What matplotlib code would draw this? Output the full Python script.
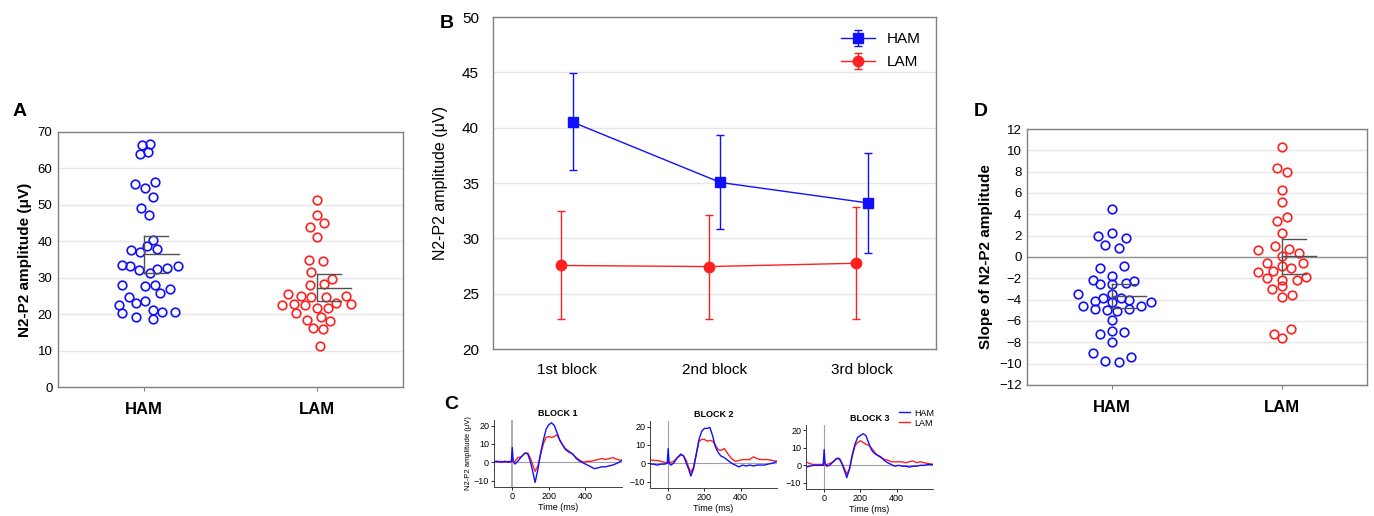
import numpy as np
import matplotlib
matplotlib.use("Agg")
import matplotlib.pyplot as plt

plt.rcParams['font.family'] = ['Liberation Sans', 'DejaVu Sans']

BLUE = '#1010ff'
RED = '#ff2020'
GRID = '#e6e6e6'
SPINE = '#808080'
MEANC = '#505050'

groups = ['HAM', 'LAM']

# panel A: individual N2-P2 amplitudes (x jitter offset, value)
a_ham_dx = [-0.015, 0.035, -0.027, 0.023, -0.056, 0.002, 0.064, 0.048, -0.021, 0.029,
            0.048, 0.015, 0.073, -0.077, -0.027, -0.131, -0.081, -0.031, 0.033, 0.073,
            0.133, 0.193, -0.131, 0.002, 0.062, 0.093, 0.149, -0.087, -0.147, -0.046,
            0.002, -0.128, 0.052, 0.104, 0.178, -0.046, 0.052]
a_ham = [66.5, 66.7, 64.0, 64.5, 55.6, 54.7, 56.4, 52.2, 49.0, 47.3,
         40.3, 38.6, 37.9, 37.5, 37.0, 33.6, 33.1, 32.0, 31.4, 32.5,
         32.8, 33.2, 27.9, 27.8, 28.1, 25.9, 27.0, 24.7, 22.4, 23.0,
         23.5, 20.2, 21.0, 20.6, 20.5, 19.1, 18.8]
a_lam_dx = [0.002, 0.002, 0.041, -0.039, 0.002, -0.043, 0.035, -0.031, -0.039, 0.041,
            0.087, -0.168, -0.089, -0.031, 0.052, 0.172, -0.199, -0.130, -0.070, 0.002,
            0.068, 0.112, 0.201, -0.120, -0.058, 0.027, 0.077, -0.019, 0.039, 0.019]
a_lam = [51.2, 47.1, 45.1, 43.9, 41.1, 34.9, 34.6, 31.6, 28.0, 28.2,
         29.7, 25.6, 25.0, 24.7, 24.8, 25.0, 22.5, 22.9, 22.4, 21.7,
         21.8, 23.0, 22.8, 20.3, 18.4, 19.2, 18.0, 16.2, 16.0, 11.3]
a_mean = [36.5, 27.3]
a_lo = [31.4, 23.5]
a_hi = [41.4, 31.0]

# panel B: mean amplitude per block with error bars
blocks = ['1st block', '2nd block', '3rd block']
b_ham = [40.5, 35.05, 33.2]
b_ham_lo = [36.15, 30.85, 28.65]
b_ham_hi = [44.9, 39.35, 37.7]
b_lam = [27.55, 27.45, 27.75]
b_lam_lo = [22.75, 22.75, 22.75]
b_lam_hi = [32.45, 32.15, 32.8]

# panel C: grand-average waveforms (time in ms, amplitude in uV)
c_time = [-100, -80, -60, -40, -20, -5, 0, 5, 15, 30, 50, 70, 85, 100, 112, 125, 140,
          155, 170, 185, 200, 215, 230, 245, 260, 275, 290, 310, 330, 350, 370, 390,
          410, 430, 450, 470, 490, 510, 530, 550, 575, 600]
c_ham = [
    [0.5, 0.5, 0, 0.5, 0, 0.5, 8, 0.5, -1, 0.5, 3, 5, 4.5, 0, -5, -11, -4,
     5, 12, 18, 20.5, 21.5, 20, 16, 12, 9.5, 7, 5.5, 4.5, 2, 0.5, -0.5,
     -1.5, -2.5, -3.5, -3, -2.5, -2.5, -2, -1.5, -0.5, 1],
    [-0.5, -0.5, -1, -0.5, -0.5, 0, 8, 0, -1, 0, 3, 5, 4, 0, -3, -7, -3,
     5, 13, 17.5, 19, 19, 19.5, 15, 9, 6, 4, 3, 1.5, 0, -1, -2,
     -1, -1.5, -1, -1.5, -1, -1, -1, -0.5, 0, 1],
    [-1, -0.5, 0, 0, 0, 0, 9, 1, -0.5, 0, 2, 4, 3.5, 0.5, -3, -7, -2,
     6, 12, 16, 17, 18, 17, 13, 9, 7, 6, 5, 3, 1.5, 0.5, -0.5,
     0, -0.5, -0.5, -1, -0.5, -0.5, 0, 0, 0.5, 0.5],
]
c_lam = [
    [0.5, 0, 0.5, 0, 0.5, 0, 3, 0, 0.5, 2.5, 3, 5, 5, 2, -1.5, -5, -2,
     4, 10, 13.5, 14, 13.5, 14, 15, 12, 9.5, 7.5, 6, 4.5, 2.5, 1, 0,
     0.5, 0.5, 1, 1.5, 2, 1.5, 2, 2.5, 1.5, 1],
    [2, 1.5, 1.5, 1, 0.5, 0, 3, 0, 0.5, 1, 3, 4.5, 4, 1.5, -2, -5, -2,
     5, 12, 13, 13, 12, 12.5, 12, 10, 7.5, 7, 8, 5, 2.5, 1, 1.5,
     2, 2, 2, 3.5, 2.5, 2, 2, 2, 1.5, 1],
    [2, 1, 0.5, 0.5, 0.5, 0.5, 4, 0, 0.5, 1, 2, 4, 4, 1, -2, -5, -2,
     5, 11, 13, 14, 13, 12, 11.5, 10, 8, 6, 4.5, 3.5, 3, 2, 2,
     2, 2, 1.5, 2, 2.5, 1.5, 2, 1.5, 1, 0.5],
]
c_titles = ['BLOCK 1', 'BLOCK 2', 'BLOCK 3']

# panel D: slope of N2-P2 amplitude
d_ham_dx = [0.0, -0.080, 0.0, 0.080, -0.041, 0.041, -0.071, 0.071, 0.0, -0.114,
            -0.071, 0.0, 0.080, 0.131, -0.202, 0.0, -0.051, 0.051, -0.100, 0.0,
            0.100, 0.229, -0.171, -0.100, -0.031, 0.029, 0.100, 0.169, 0.0, 0.0,
            0.071, -0.071, 0.0, -0.110, 0.110, -0.041, 0.041]
d_ham = [4.49, 1.96, 2.24, 1.80, 1.11, 0.80, -1.02, -0.80, -1.77, -2.14,
         -2.55, -2.49, -2.42, -2.21, -3.43, -3.43, -3.89, -3.86, -4.08, -4.21,
         -4.02, -4.21, -4.61, -4.90, -4.93, -5.02, -4.90, -4.61, -5.87, -6.96,
         -6.99, -7.24, -7.99, -9.00, -9.37, -9.75, -9.81]
d_lam_dx = [0.0, -0.029, 0.031, 0.0, 0.0, -0.029, 0.031, 0.0, -0.039, -0.139,
            0.041, 0.100, 0.0, -0.090, 0.0, 0.051, 0.120, -0.139, -0.053, -0.090,
            0.0, 0.090, 0.141, 0.0, -0.061, 0.061, 0.0, -0.049, 0.051, 0.0]
d_lam = [10.28, 8.31, 8.0, 6.31, 5.18, 3.40, 3.77, 2.24, 1.05, 0.61,
         0.74, 0.42, 0.05, -0.52, -0.89, -1.02, -0.58, -1.39, -1.33, -1.95,
         -2.17, -2.17, -1.89, -2.71, -3.02, -3.52, -3.74, -7.18, -6.71, -7.59]
d_mean = [-3.64, 0.08]
d_lo = [-4.80, -1.55]
d_hi = [-2.49, 1.71]


def style_box(ax):
    for s in ax.spines.values():
        s.set_color(SPINE)
        s.set_linewidth(1.0)
    ax.yaxis.grid(True, color=GRID, lw=1)
    ax.set_axisbelow(True)


def scatter_panel(ax, dxs, vals, means, los, his, ylim, yticks, ylabel):
    for i, (dx, v, c) in enumerate(zip(dxs, vals, [BLUE, RED])):
        ax.plot(np.array(dx) + i, v, 'o', ms=6.2, mfc='none', mec=c, mew=1.2,
                zorder=3, clip_on=False)
    # mean and confidence bracket
    for i in range(2):
        ax.plot([i, i], [los[i], his[i]], color=MEANC, lw=1, zorder=4)
        ax.plot([i, i + 0.2], [means[i], means[i]], color=MEANC, lw=1, zorder=4)
        ax.plot([i, i + 0.14], [los[i], los[i]], color=MEANC, lw=1, zorder=4)
        ax.plot([i, i + 0.14], [his[i], his[i]], color=MEANC, lw=1, zorder=4)
    ax.set_xlim(-0.5, 1.5)
    ax.set_ylim(*ylim)
    ax.set_yticks(yticks)
    ax.set_xticks([0, 1])
    ax.set_xticklabels(groups, fontsize=12, fontweight='bold')
    ax.tick_params(axis='y', length=0, labelsize=9.5, pad=4)
    ax.tick_params(axis='x', length=3, color=SPINE, pad=8)
    ax.set_ylabel(ylabel, fontsize=11, fontweight='bold')
    style_box(ax)


fig = plt.figure(figsize=(13.74, 5.16), dpi=100)

# ---- A
axA = fig.add_axes([0.0422, 0.25, 0.2511, 0.4942])
scatter_panel(axA, [a_ham_dx, a_lam_dx], [a_ham, a_lam], a_mean, a_lo, a_hi,
              (0, 70), range(0, 71, 10), 'N2-P2 amplitude (\u03bcV)')
fig.text(0.009, 0.775, 'A', fontsize=14, fontweight='bold')

# ---- B
axB = fig.add_axes([0.3588, 0.3236, 0.3224, 0.6434])
xb = np.arange(len(blocks))
axB.errorbar(xb + 0.04, b_ham,
             yerr=[np.subtract(b_ham, b_ham_lo), np.subtract(b_ham_hi, b_ham)],
             color=BLUE, marker='s', ms=7.5, lw=1, capsize=3, elinewidth=1, label='HAM')
axB.errorbar(xb - 0.04, b_lam,
             yerr=[np.subtract(b_lam, b_lam_lo), np.subtract(b_lam_hi, b_lam)],
             color=RED, marker='o', ms=7.5, lw=1, capsize=3, elinewidth=1, label='LAM')
axB.set_xlim(-0.5, 2.5)
axB.set_ylim(20, 50)
axB.set_yticks(range(20, 51, 5))
axB.set_xticks(xb)
axB.set_xticklabels(blocks, fontsize=11)
axB.tick_params(axis='y', length=0, labelsize=11, pad=10)
axB.tick_params(axis='x', length=0, pad=10)
axB.set_ylabel('N2-P2 amplitude (\u03bcV)', fontsize=11.5, labelpad=10)
style_box(axB)
axB.legend(loc='upper right', frameon=False, fontsize=11, handlelength=2.2,
           borderaxespad=0.6, labelspacing=0.6)
fig.text(0.320, 0.945, 'B', fontsize=14, fontweight='bold')

# ---- C
c_rects = [[0.3595, 0.0562, 0.0932, 0.1298],
           [0.4731, 0.0543, 0.0924, 0.1297],
           [0.5866, 0.0523, 0.0924, 0.1241]]
for k, rect in enumerate(c_rects):
    ax = fig.add_axes(rect)
    ax.axvline(0, color='#a0a0a0', lw=1.2 if k == 0 else 0.8, zorder=1)
    ax.axhline(0, color='#a0a0a0', lw=0.8, zorder=1)
    ax.plot(c_time, c_ham[k], color=BLUE, lw=1.0, label='HAM', zorder=3)
    ax.plot(c_time, c_lam[k], color=RED, lw=1.0, label='LAM', zorder=2)
    ax.set_xlim(-100, 600)
    ax.set_ylim(-13.5, 23)
    ax.set_yticks([-10, 0, 10, 20])
    ax.set_xticks([0, 200, 400])
    for s in ['top', 'right']:
        ax.spines[s].set_visible(False)
    for s in ['left', 'bottom']:
        ax.spines[s].set_color('#404040')
        ax.spines[s].set_linewidth(0.7)
    ax.tick_params(labelsize=6.5, length=2, width=0.6, pad=1.5)
    ax.set_xlabel('Time (ms)', fontsize=6.5, labelpad=1.5)
    ax.set_title(c_titles[k], fontsize=6.5, fontweight='bold', pad=3)
    if k == 0:
        ax.set_ylabel('N2-P2 amplitude (\u03bcV)', fontsize=5.5, labelpad=1)
    if k == 2:
        ax.legend(loc='upper right', bbox_to_anchor=(1.05, 1.34), frameon=False,
                  fontsize=6.5, handlelength=1.2, handletextpad=0.4,
                  labelspacing=0.1, borderpad=0.1)
fig.text(0.323, 0.208, 'C', fontsize=14, fontweight='bold')

# ---- D
axD = fig.add_axes([0.7475, 0.2539, 0.2475, 0.4961])
axD.axhline(0, color='#909090', lw=1, zorder=2)
scatter_panel(axD, [d_ham_dx, d_lam_dx], [d_ham, d_lam], d_mean, d_lo, d_hi,
              (-12, 12), range(-12, 13, 2), 'Slope of N2-P2 amplitude')
axD.set_yticklabels([('\u2212%d' % -v) if v < 0 else str(v) for v in range(-12, 13, 2)])
fig.text(0.709, 0.775, 'D', fontsize=14, fontweight='bold')

fig.savefig('out.png', dpi=100)
